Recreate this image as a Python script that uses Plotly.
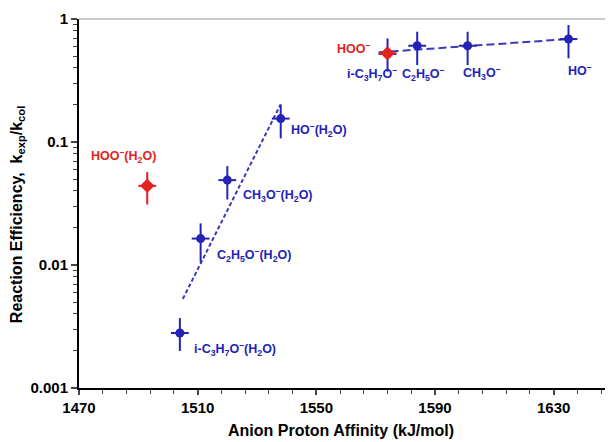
import math
import plotly.graph_objects as go

# ---- data ----
hyd_labels = ["i-C<sub>3</sub>H<sub>7</sub>O<sup>–</sup>(H<sub>2</sub>O)",
              "C<sub>2</sub>H<sub>5</sub>O<sup>–</sup>(H<sub>2</sub>O)",
              "CH<sub>3</sub>O<sup>–</sup>(H<sub>2</sub>O)",
              "HO<sup>–</sup>(H<sub>2</sub>O)"]
hyd_pa = [1504, 1511, 1520, 1538]
hyd_eff = [0.0028, 0.0164, 0.049, 0.155]
hyd_hi = [0.0037, 0.0218, 0.0637, 0.20]
hyd_lo = [0.0020, 0.0106, 0.0341, 0.107]

bare_labels = ["i-C<sub>3</sub>H<sub>7</sub>O<sup>–</sup>",
               "C<sub>2</sub>H<sub>5</sub>O<sup>–</sup>",
               "CH<sub>3</sub>O<sup>–</sup>",
               "HO<sup>–</sup>"]
bare_pa = [1574, 1584, 1601, 1635]
bare_eff = [0.52, 0.606, 0.606, 0.687]
bare_hi = [0.696, 0.788, 0.788, 0.894]
bare_lo = [0.373, 0.422, 0.422, 0.479]

hoo_labels = ["HOO<sup>–</sup>(H<sub>2</sub>O)", "HOO<sup>–</sup>"]
hoo_pa = [1493, 1574]
hoo_eff = [0.044, 0.526]
hoo_hi = [0.057, 0.526]
hoo_lo = [0.031, 0.526]

pa_err = 3

fit_hyd_pa = [1505, 1538]
fit_hyd_eff = [0.0053, 0.203]
fit_bare_pa = [1571, 1635]
fit_bare_eff = [0.536, 0.687]

x_ticks = [1470, 1510, 1550, 1590, 1630]
y_ticks = [0.001, 0.01, 0.1, 1]
y_ticktext = ["0.001", "0.01", "0.1", "1"]

x_title = "Anion Proton Affinity (kJ/mol)"
y_title = "Reaction Efficiency,  k<sub>exp</sub>/k<sub>col</sub>"

BLUE = "#2323b8"
RED = "#e42320"
FONT = "Liberation Sans"

fig = go.Figure()

fig.add_trace(go.Scatter(x=fit_hyd_pa, y=fit_hyd_eff, mode="lines",
                         line=dict(color="#3a3ab8", width=2, dash="4px,2.5px")))
fig.add_trace(go.Scatter(x=fit_bare_pa, y=fit_bare_eff, mode="lines",
                         line=dict(color="#3a3ab8", width=2, dash="8px,4px")))

def err(vals, hi, lo, color):
    return dict(type="data", symmetric=False,
                array=[h - v for v, h in zip(vals, hi)],
                arrayminus=[v - l for v, l in zip(vals, lo)],
                color=color, thickness=2, width=0)

fig.add_trace(go.Scatter(x=hyd_pa, y=hyd_eff, mode="markers",
                         marker=dict(color=BLUE, size=9, symbol="circle"),
                         error_y=err(hyd_eff, hyd_hi, hyd_lo, BLUE),
                         error_x=dict(type="constant", value=pa_err, color=BLUE, thickness=2, width=0)))
fig.add_trace(go.Scatter(x=bare_pa, y=bare_eff, mode="markers",
                         marker=dict(color=BLUE, size=9, symbol="circle"),
                         error_y=err(bare_eff, bare_hi, bare_lo, BLUE),
                         error_x=dict(type="constant", value=pa_err, color=BLUE, thickness=2, width=0)))
fig.add_trace(go.Scatter(x=hoo_pa, y=hoo_eff, mode="markers",
                         marker=dict(color=RED, size=11, symbol="diamond"),
                         error_y=err(hoo_eff, hoo_hi, hoo_lo, RED),
                         error_x=dict(type="constant", value=pa_err, color=RED, thickness=2, width=0)))

def lab_font(color):
    return dict(family=FONT, size=12.5, color=color, weight="bold")

# label offsets (pixels)
hyd_off = [(12, -16), (14, -16), (14, -15), (8, -11)]
for lab, x, y, (dx, dy) in zip(hyd_labels, hyd_pa, hyd_eff, hyd_off):
    fig.add_annotation(x=x, y=math.log10(y), text=lab, showarrow=False,
                       xanchor="left", yanchor="middle", xshift=dx, yshift=dy,
                       font=lab_font(BLUE))
bare_off = [(-16, -20), (6, -28), (14, -27), (11, -31)]
for lab, x, y, (dx, dy) in zip(bare_labels, bare_pa, bare_eff, bare_off):
    fig.add_annotation(x=x, y=math.log10(y), text=lab, showarrow=False,
                       xanchor="center", yanchor="middle", xshift=dx, yshift=dy,
                       font=lab_font(BLUE))
hoo_cfg = [("center", -24, 30), ("right", -16, 5)]
for lab, x, y, (anc, dx, dy) in zip(hoo_labels, hoo_pa, hoo_eff, hoo_cfg):
    fig.add_annotation(x=x, y=math.log10(y), text=lab, showarrow=False,
                       xanchor=anc, yanchor="middle", xshift=dx, yshift=dy,
                       font=lab_font(RED))

# axis titles
fig.add_annotation(xref="paper", yref="paper", x=0.49, y=-0.115, text=x_title,
                   showarrow=False, xanchor="center", yanchor="middle",
                   font=dict(family=FONT, size=16, color="black", weight="bold"))
fig.add_annotation(xref="paper", yref="paper", x=-0.115, y=0.47, text=y_title,
                   textangle=-90, showarrow=False, xanchor="center", yanchor="middle",
                   font=dict(family=FONT, size=16, color="black", weight="bold"))

# page body adds an 8px margin, so the figure is offset accordingly
fig.update_layout(
    width=605, height=434,
    margin=dict(l=71, r=0, t=11, b=54),
    paper_bgcolor="white", plot_bgcolor="white",
    showlegend=False,
    font=dict(family=FONT, color="black"),
    shapes=[dict(type="line", xref="paper", yref="paper", x0=0, x1=1, y0=1, y1=1,
                 line=dict(color="#9a9a9a", width=1))],
)
fig.update_xaxes(range=[1470, 1650], tickvals=x_ticks, ticks="outside", ticklen=5,
                 tickwidth=1.5, showline=True, linewidth=2, linecolor="black",
                 showgrid=False, zeroline=False,
                 tickfont=dict(family=FONT, size=15, weight="bold"),
                 minor=dict(tick0=1470, dtick=8, ticks="outside", ticklen=4, tickwidth=1.2,
                            showgrid=False))
minor_y = [m * 10 ** e for e in (-3, -2, -1) for m in range(2, 10)]
fig.update_yaxes(type="log", range=[-3, 0], tickvals=y_ticks, ticktext=y_ticktext,
                 ticks="outside", ticklen=6, tickwidth=1.5,
                 showline=True, linewidth=2, linecolor="black",
                 showgrid=False, zeroline=False,
                 tickfont=dict(family=FONT, size=15, weight="bold"),
                 minor=dict(tickvals=minor_y, ticks="outside", ticklen=4, tickwidth=1.2,
                            showgrid=False))

fig.write_html("out.html")
